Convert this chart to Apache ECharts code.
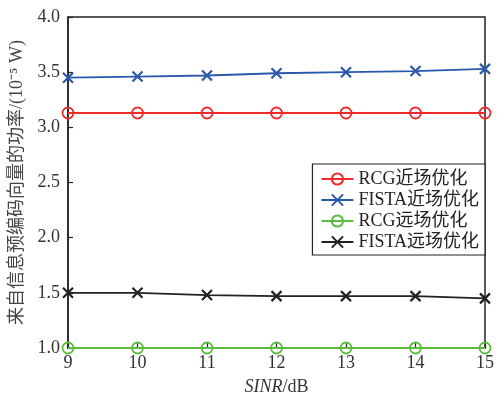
<!DOCTYPE html>
<html>
<head>
<meta charset="utf-8">
<script src="https://cdn.jsdelivr.net/npm/echarts@6/dist/echarts.min.js"></script>
<style>
  html, body { margin: 0; padding: 0; background: #fff; }
  #chart { width: 497px; height: 401px; }
</style>
</head>
<body>
<div id="chart"></div>
<script>
// SINR values (dB)
const sinr = [9, 10, 11, 12, 13, 14, 15];
// Power of information precoding vectors (10^-5 W)
const rcgNear = [3.13, 3.13, 3.13, 3.13, 3.13, 3.13, 3.13];
const fistaNear = [3.45, 3.46, 3.47, 3.49, 3.50, 3.51, 3.53];
const rcgFar = [1.0, 1.0, 1.0, 1.0, 1.0, 1.0, 1.0];
const fistaFar = [1.50, 1.50, 1.48, 1.47, 1.47, 1.47, 1.45];

const seriesNames = ['RCG近场优化', 'FISTA近场优化', 'RCG远场优化', 'FISTA远场优化'];
const yTicks = [1.0, 1.5, 2.0, 2.5, 3.0, 3.5, 4.0];

const FONT = '"Liberation Serif", "Noto Sans CJK SC", serif';
const CROSS = 'path://M0,0L10,10M10,0L0,10';

function pairs(ys) { return sinr.map((x, i) => [x, ys[i]]); }

function makeSeries(name, data, color, marker) {
  const isCircle = marker === 'circle';
  return {
    name: name,
    type: 'line',
    data: pairs(data),
    symbol: isCircle ? 'circle' : CROSS,
    symbolSize: isCircle ? 11 : 10,
    showAllSymbol: true,
    lineStyle: { color: color, width: 1.8 },
    itemStyle: {
      color: isCircle ? 'rgba(0,0,0,0)' : color,
      borderColor: color,
      borderWidth: isCircle ? 1.8 : 2.2
    },
    emphasis: { disabled: true },
    animation: false,
    z: 3
  };
}

const chart = echarts.init(document.getElementById('chart'), null, { renderer: 'canvas' });
chart.setOption({
  backgroundColor: '#fff',
  animation: false,
  grid: {
    left: 66, right: 9, top: 17, bottom: 49,
    show: true, borderColor: '#222', borderWidth: 1.5
  },
  legend: {
    orient: 'vertical',
    right: 12, top: 164,
    padding: [6, 6, 4, 8],
    itemWidth: 32, itemHeight: 14, itemGap: 3,
    backgroundColor: '#fff',
    borderColor: '#222', borderWidth: 1.2,
    textStyle: { fontFamily: FONT, fontSize: 18, color: '#222' },
    data: seriesNames
  },
  xAxis: {
    type: 'value',
    min: 9, max: 15, interval: 1,
    name: '{i|SINR}/dB',
    nameLocation: 'middle',
    nameGap: 30,
    nameTextStyle: {
      fontFamily: FONT, fontSize: 18, color: '#333',
      rich: { i: { fontFamily: FONT, fontSize: 18, fontStyle: 'italic', color: '#333' } }
    },
    axisLine: { lineStyle: { color: '#222', width: 1.5 } },
    axisTick: { inside: true, length: 5, lineStyle: { color: '#222', width: 1.2 } },
    axisLabel: { fontFamily: FONT, fontSize: 18, color: '#333', margin: 6 },
    splitLine: { show: false }
  },
  yAxis: {
    type: 'value',
    min: 1.0, max: 4.0, interval: 0.5,
    name: '来自信息预编码向量的功率/(10⁻⁵ W)',
    nameLocation: 'middle',
    nameGap: 42,
    nameTextStyle: { fontFamily: FONT, fontSize: 18, color: '#444' },
    axisLine: { lineStyle: { color: '#222', width: 1.5 } },
    axisTick: { inside: true, length: 5, lineStyle: { color: '#222', width: 1.2 } },
    axisLabel: {
      fontFamily: FONT, fontSize: 18, color: '#333', margin: 8,
      formatter: v => yTicks.includes(v) ? v.toFixed(1) : ''
    },
    splitLine: { show: false }
  },
  series: [
    makeSeries(seriesNames[0], rcgNear, '#ee2a2a', 'circle'),
    makeSeries(seriesNames[1], fistaNear, '#2a58ab', 'cross'),
    makeSeries(seriesNames[2], rcgFar, '#5dbb3f', 'circle'),
    makeSeries(seriesNames[3], fistaFar, '#222222', 'cross')
  ]
});
</script>
</body>
</html>
